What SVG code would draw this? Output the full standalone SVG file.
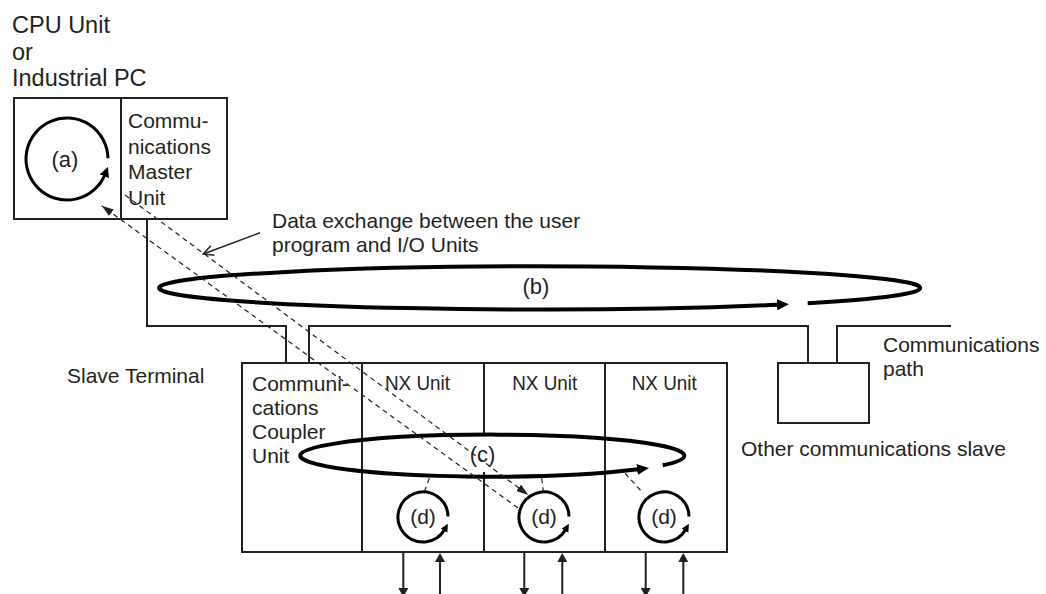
<svg xmlns="http://www.w3.org/2000/svg" width="1046" height="594" viewBox="0 0 1046 594">
<defs>
<style>
text{font-family:"Liberation Sans",Arial,sans-serif;font-size:21px;fill:#231f20}
.big{font-size:23.5px}
.lbl{font-size:22px}
.box{fill:none;stroke:#231f20;stroke-width:2}
.wire{fill:none;stroke:#231f20;stroke-width:2}
.dash{fill:none;stroke:#231f20;stroke-width:1.2;stroke-dasharray:5 4}
.loop{fill:none;stroke:#000;stroke-width:4}
.cyc{fill:none;stroke:#000;stroke-width:3}
.thin{fill:none;stroke:#231f20;stroke-width:1.5}
</style>
<marker id="mDash" markerUnits="userSpaceOnUse" markerWidth="12" markerHeight="8" refX="12" refY="4" orient="auto"><path d="M0,0 L12,4 L0,8 z" fill="#231f20"/></marker>
<marker id="mOpen" markerUnits="userSpaceOnUse" markerWidth="12" markerHeight="12" refX="11" refY="6" orient="auto"><path d="M1,1 L11,6 L1,11" fill="none" stroke="#231f20" stroke-width="1.5"/></marker>
<marker id="mIO" markerUnits="userSpaceOnUse" markerWidth="9" markerHeight="10" refX="0" refY="5" orient="auto"><path d="M0,0 L9,5 L0,10 z" fill="#231f20"/></marker>
<marker id="mBig" markerUnits="userSpaceOnUse" markerWidth="12" markerHeight="11" refX="1" refY="5.5" orient="auto"><path d="M0,0 L12,5.5 L0,11 z" fill="#000"/></marker>
<marker id="mA" markerUnits="userSpaceOnUse" markerWidth="10" markerHeight="10" refX="2" refY="5" orient="auto"><path d="M0,0 L10,5 L0,10 z" fill="#000"/></marker>
<marker id="mD" markerUnits="userSpaceOnUse" markerWidth="8" markerHeight="8" refX="1.5" refY="4" orient="auto"><path d="M0,0 L8,4 L0,8 z" fill="#000"/></marker>
</defs>
<rect width="1046" height="594" fill="#fff"/>

<g id="title">
<text class="big" x="12" y="33">CPU Unit</text>
<text class="big" x="12" y="60">or</text>
<text class="big" x="12" y="86">Industrial PC</text>
</g>

<g id="cpu-unit">
<rect class="box" x="14" y="98" width="213" height="121"/>
<line class="box" x1="121" y1="98" x2="121" y2="219"/>
<path class="cyc" d="M107.99,158.28 A41,41 0 1 0 105.01,174.36" marker-end="url(#mA)"/>
<text class="lbl" x="65" y="167" text-anchor="middle">(a)</text>
<text x="128" y="128">Commu-</text>
<text x="128" y="154">nications</text>
<text x="128" y="179">Master</text>
<text x="128" y="205">Unit</text>
</g>

<g id="label-data-exchange">
<text x="272" y="228">Data exchange between the user</text>
<text x="272" y="252">program and I/O Units</text>
</g>

<g id="slave-terminal">
<text x="67" y="383">Slave Terminal</text>
<rect class="box" x="242" y="363" width="485" height="189"/>
<line class="box" x1="362" y1="363" x2="362" y2="552"/>
<line class="box" x1="484" y1="363" x2="484" y2="435"/>
<line class="box" x1="484" y1="472" x2="484" y2="552"/>
<line class="box" x1="605" y1="363" x2="605" y2="552"/>
<text x="252" y="391">Communi-</text>
<text x="252" y="415">cations</text>
<text x="252" y="439">Coupler</text>
<text x="252" y="463">Unit</text>
<text x="417.5" y="390" text-anchor="middle" textLength="65" lengthAdjust="spacingAndGlyphs">NX Unit</text>
<text x="544.7" y="390" text-anchor="middle" textLength="65" lengthAdjust="spacingAndGlyphs">NX Unit</text>
<text x="664.2" y="390" text-anchor="middle" textLength="65" lengthAdjust="spacingAndGlyphs">NX Unit</text>
</g>

<g id="nx-cycles">
<path class="cyc" d="M448,516.56 A25,25 0 1 0 444.65,529.5" marker-end="url(#mD)"/>
<text x="423" y="524" text-anchor="middle">(d)</text>
<path class="cyc" d="M569,516.56 A25,25 0 1 0 565.65,529.5" marker-end="url(#mD)"/>
<text x="544" y="524" text-anchor="middle">(d)</text>
<path class="cyc" d="M689,516.56 A25,25 0 1 0 685.65,529.5" marker-end="url(#mD)"/>
<text x="664" y="524" text-anchor="middle">(d)</text>
</g>

<g id="other-slave">
<rect class="box" x="778" y="363" width="91" height="60"/>
<text x="741" y="456">Other communications slave</text>
</g>

<g id="comm-path-label">
<text x="883" y="352">Communications</text>
<text x="883" y="376">path</text>
</g>

<g id="connectors">
<path class="wire" d="M147,219 V326 H286 V363"/>
<path class="wire" d="M309,363 V326 H808 V363"/>
<path class="wire" d="M837,363 V326 H951"/>

<path class="loop" d="M807.7,303.2 A380.5,21.5 0 1 0 778,304.7" marker-end="url(#mBig)"/>
<text class="lbl" x="536" y="294" text-anchor="middle">(b)</text>

<path class="loop" d="M662.7,465.3 A192,21 0 1 0 638,469.3" marker-end="url(#mBig)"/>
<text class="lbl" x="482.5" y="462" text-anchor="middle">(c)</text>

<line class="dash" x1="518" y1="508" x2="101.7" y2="205.7" marker-end="url(#mDash)"/>
<line class="dash" x1="125" y1="195" x2="528.3" y2="495" marker-end="url(#mDash)"/>
<line class="dash" x1="429.3" y1="478.3" x2="424.3" y2="491.7"/>
<line class="dash" x1="541.7" y1="478.3" x2="543.3" y2="491.7"/>
<line class="dash" x1="625" y1="473.3" x2="643.3" y2="493.3"/>

<line class="thin" x1="260" y1="232.7" x2="203.3" y2="254" marker-end="url(#mOpen)"/>

<line class="wire" x1="403.3" y1="552" x2="403.3" y2="588" marker-end="url(#mIO)"/>
<line class="wire" x1="440" y1="594" x2="440" y2="562" marker-end="url(#mIO)"/>
<line class="wire" x1="524.3" y1="552" x2="524.3" y2="588" marker-end="url(#mIO)"/>
<line class="wire" x1="562.3" y1="594" x2="562.3" y2="562" marker-end="url(#mIO)"/>
<line class="wire" x1="645.7" y1="552" x2="645.7" y2="588" marker-end="url(#mIO)"/>
<line class="wire" x1="683.3" y1="594" x2="683.3" y2="562" marker-end="url(#mIO)"/>
</g>
</svg>
